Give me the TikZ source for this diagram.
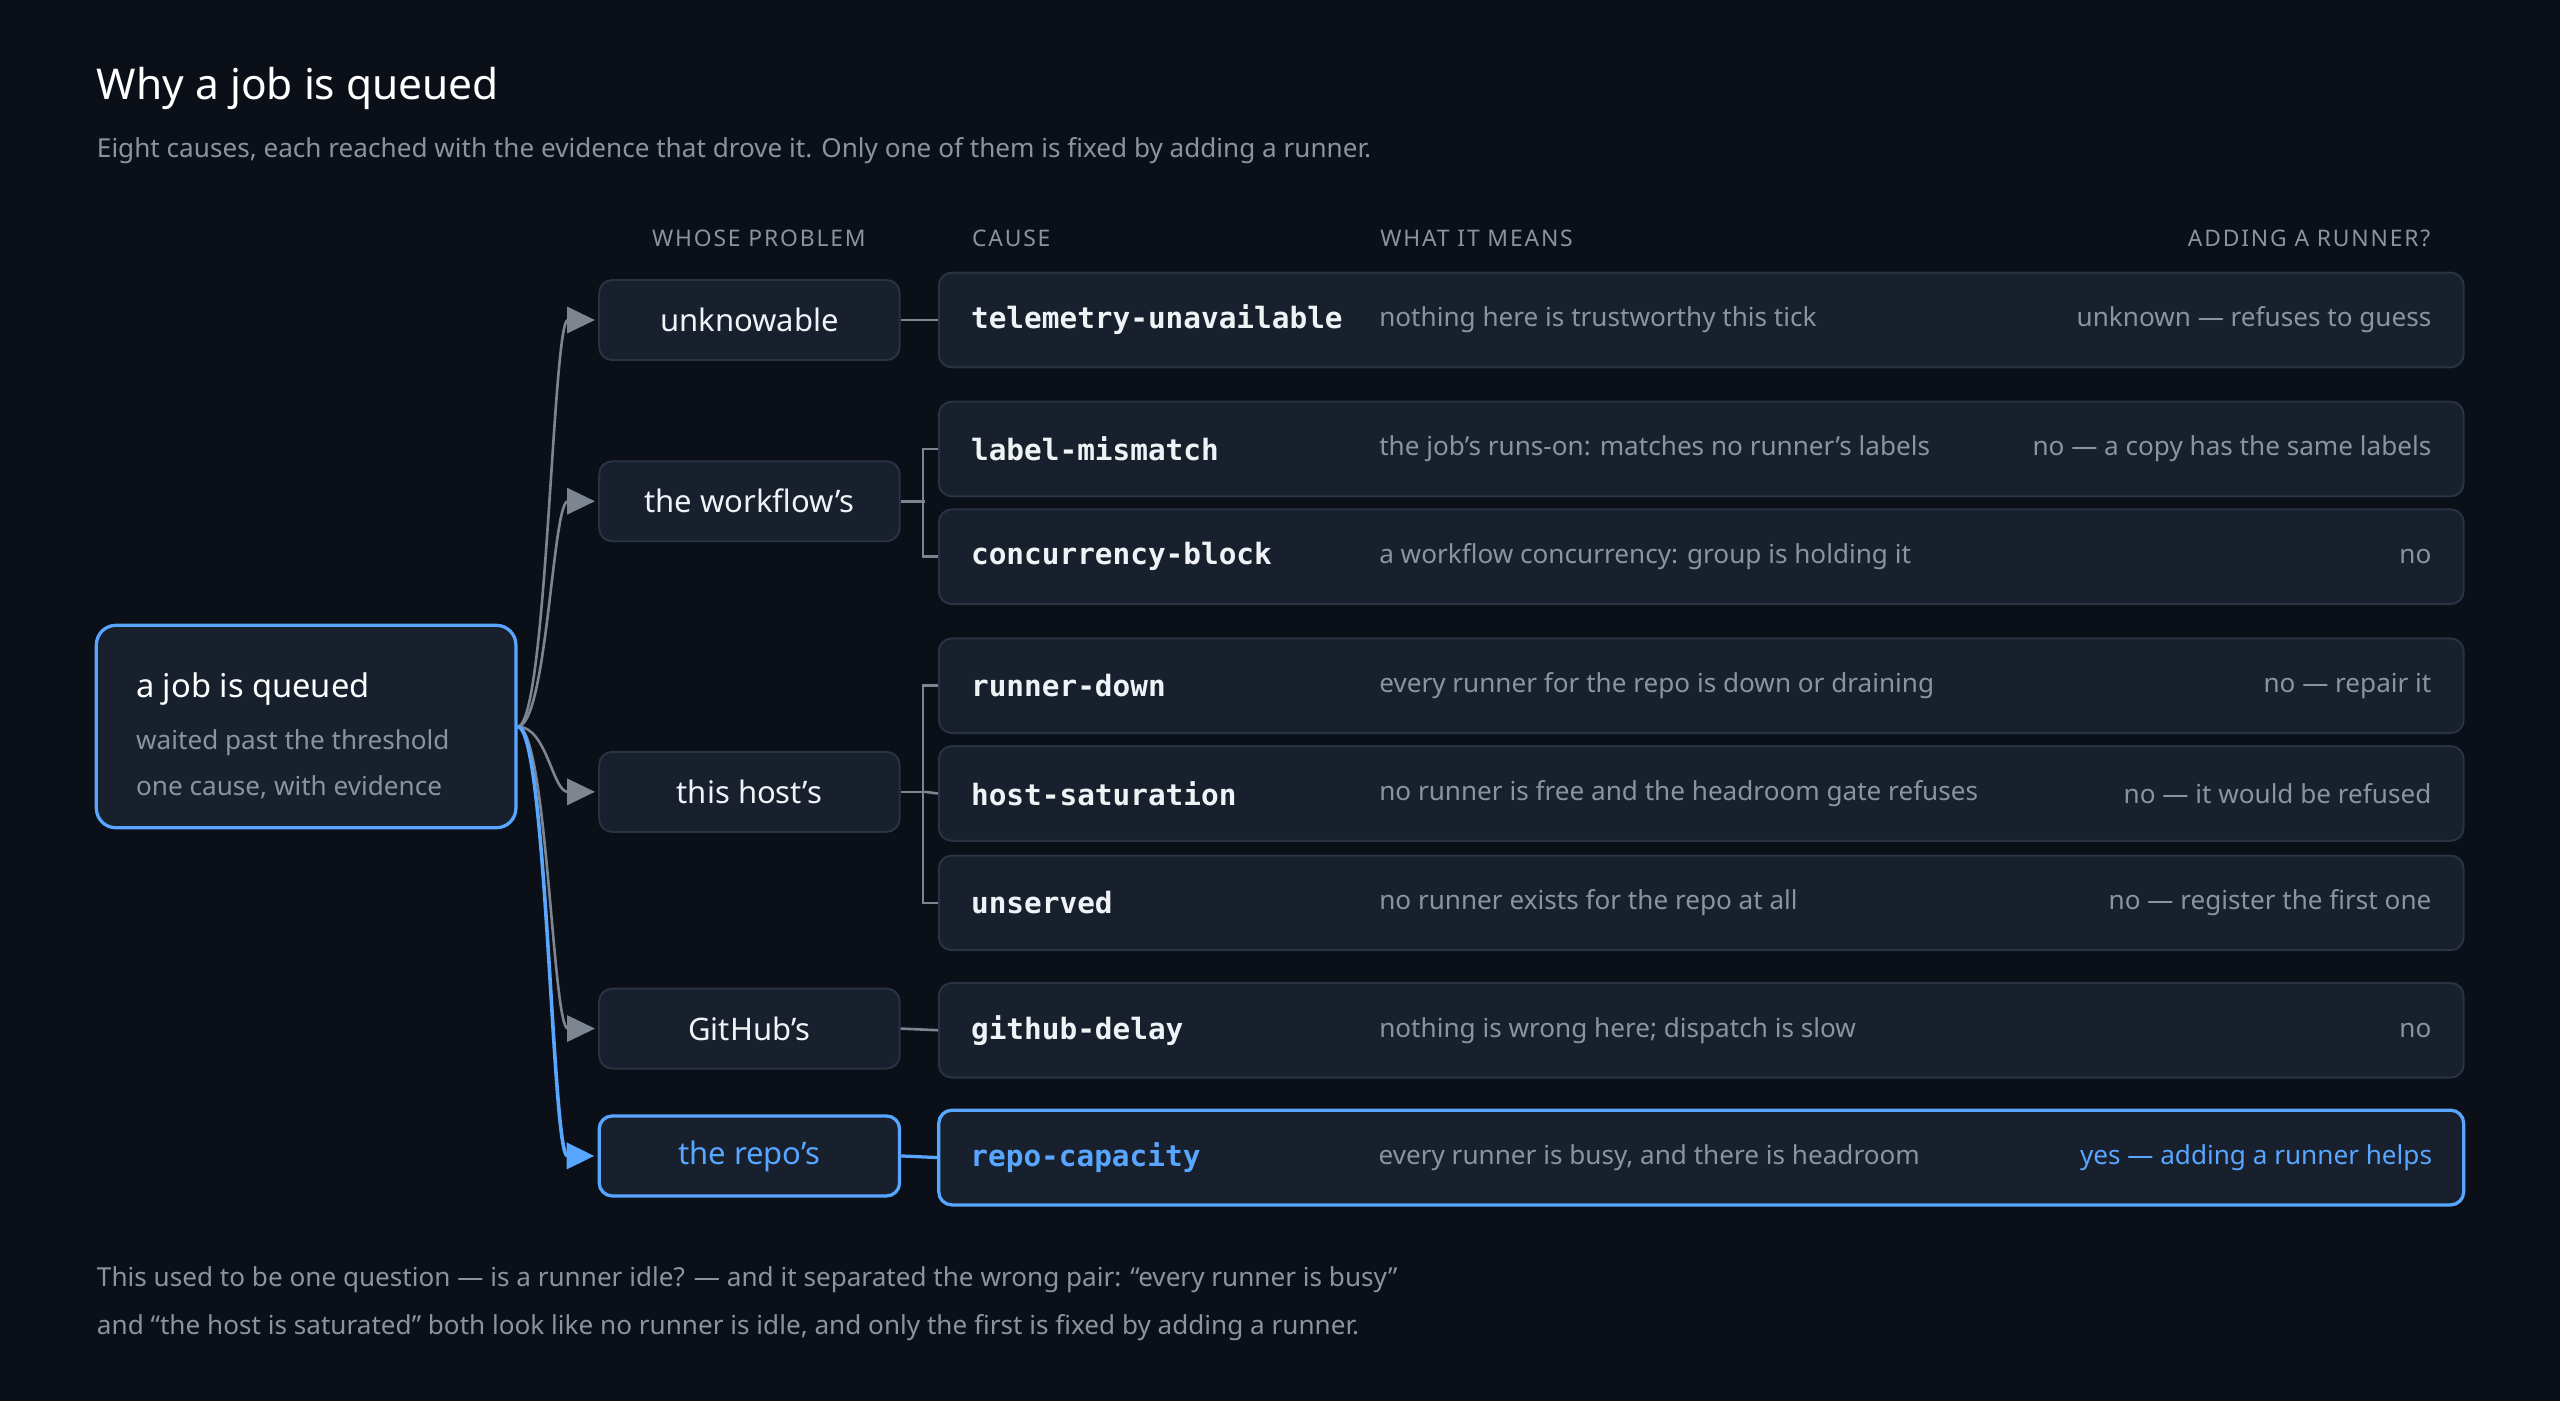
\documentclass[tikz,border=0pt]{standalone}
\usepackage{fontspec}
\setmainfont{Noto Sans}
\newfontfamily\monof{DejaVu Sans Mono}
\newfontfamily\capsf[LetterSpace=8]{Noto Sans}
\usetikzlibrary{arrows.meta,calc}
\definecolor{bg}{HTML}{0B0F17}
\definecolor{boxf}{HTML}{18202E}
\definecolor{boxd}{HTML}{2A3343}
\definecolor{txt}{HTML}{F0F3F6}
\definecolor{mut}{HTML}{8B949E}
\definecolor{blu}{HTML}{58A6FF}
\definecolor{con}{HTML}{7D8590}
\begin{document}
\begin{tikzpicture}[x=0.5pt,y=-0.5pt,
  cat/.style={draw=boxd,fill=boxf,rounded corners=4pt,line width=0.6pt,minimum width=92pt,minimum height=24.5pt,inner sep=0pt,text=txt,font=\fontsize{9.5}{11}\selectfont\bfseries},
  row/.style={draw=boxd,fill=boxf,rounded corners=4pt,line width=0.6pt,minimum width=467pt,minimum height=29pt,inner sep=0pt},
  cause/.style={anchor=west,text=txt,font=\monof\fontsize{9}{11}\selectfont\bfseries,inner sep=0pt},
  mean/.style={anchor=west,text=mut,font=\fontsize{8}{10}\selectfont,inner sep=0pt},
  ans/.style={anchor=east,text=mut,font=\fontsize{8}{10}\selectfont,inner sep=0pt},
  hdr/.style={anchor=west,text=mut,font=\capsf\fontsize{7}{9}\selectfont\bfseries,inner sep=0pt},
  link/.style={draw=con,line width=0.8pt},
  arr/.style={draw=con,line width=0.8pt,-{Triangle[length=8.5pt,width=8pt]}},
  barr/.style={draw=blu,line width=1.1pt,-{Triangle[length=8.5pt,width=8pt]}},
  txtn/.style={anchor=west,inner sep=0pt}]
\fill[bg] (0,0) rectangle (1568,858);
\node[txtn,text=white,font=\fontsize{13}{15}\selectfont\bfseries] (title) at (59,54) {Why a job is queued};
\node[txtn,text=mut,font=\fontsize{8}{10}\selectfont] (sub) at (59,92) {Eight causes, each reached with the evidence that drove it. Only one of them is fixed by adding a runner.};
\node[hdr] (h1) at (399,146) {WHOSE PROBLEM};
\node[hdr] (h2) at (595,146) {CAUSE};
\node[hdr] (h3) at (845,146) {WHAT IT MEANS};
\node[hdr,anchor=east] (h4) at (1489,146) {ADDING A RUNNER?};
% job
\node[draw=blu,fill=boxf,line width=1pt,rounded corners=6pt,minimum width=128.5pt,minimum height=62pt] (job) at (187.5,445) {};
\node[txtn,text=white,font=\fontsize{10}{12}\selectfont\bfseries] (jt) at (83,422) {a job is queued};
\node[txtn,text=mut,font=\fontsize{8}{10}\selectfont] (j1) at (83,455) {waited past the threshold};
\node[txtn,text=mut,font=\fontsize{8}{10}\selectfont] (j2) at (83,482) {one cause, with evidence};
% categories
\node[cat] (c1) at (459,196) {unknowable};
\node[cat] (c2) at (459,307) {the workflow's};
\node[cat] (c3) at (459,485) {this host's};
\node[cat] (c4) at (459,630) {GitHub's};
\node[cat,draw=blu,line width=1pt,text=blu] (c5) at (459,708) {the repo's};
% rows
\foreach \n/\y in {r1/196,r2/275,r3/341,r4/420,r5/486,r6/553,r7/631}{\node[row] (\n) at (1042,\y) {};}
\node[row,draw=blu,line width=1pt] (r8) at (1042,709) {};
\newcommand\rowtext[5]{%
  \node[cause,#5] (#1c) at ([xshift=10pt]#1.west) {#2};
  \node[mean] (#1m) at ([xshift=135pt]#1.west) {#3};
  \node[ans,#5] (#1a) at ([xshift=-10pt]#1.east) {#4};}
\rowtext{r1}{telemetry-unavailable}{nothing here is trustworthy this tick}{unknown — refuses to guess}{}
\rowtext{r2}{label-mismatch}{the job's runs-on: matches no runner's labels}{no — a copy has the same labels}{}
\rowtext{r3}{concurrency-block}{a workflow concurrency: group is holding it}{no}{}
\rowtext{r4}{runner-down}{every runner for the repo is down or draining}{no — repair it}{}
\rowtext{r5}{host-saturation}{no runner is free and the headroom gate refuses}{no — it would be refused}{}
\rowtext{r6}{unserved}{no runner exists for the repo at all}{no — register the first one}{}
\rowtext{r7}{github-delay}{nothing is wrong here; dispatch is slow}{no}{}
\rowtext{r8}{repo-capacity}{every runner is busy, and there is headroom}{yes — adding a runner helps}{text=blu}
% brackets
\draw[link] (c1.east) -- (r1.west);
\draw[link] (c4.east) -- (r7.west);
\draw[blu,line width=1pt] (c5.east) -- (r8.west);
\draw[link] (c2.east) -- ($(c2.east)+(15,0)$);
\draw[link] (r2.west) -- ++(-9,0) |- (r3.west);
\draw[link] (c3.east) -- ($(c3.east)+(15,0)$);
\draw[link] (r4.west) -- ++(-9,0) |- (r6.west);
\draw[link] ($(c3.east)+(15,0)$) -- (r5.west);
% arrows
\coordinate (o) at (job.east);
\foreach \c in {c1,c2,c3,c4}{
  \draw[arr] (o) .. controls ($(o)+(18,0)$) and ($(\c.west)+(-28,0)$) .. ([xshift=-1pt]\c.west);}
\draw[barr] (o) .. controls ($(o)+(18,0)$) and ($(c5.west)+(-28,0)$) .. ([xshift=-1pt]c5.west);
% footer
\node[txtn,text=mut,font=\fontsize{8}{10}\selectfont] (f1) at (59,784) {This used to be one question — is a runner idle? — and it separated the wrong pair: “every runner is busy”};
\node[txtn,text=mut,font=\fontsize{8}{10}\selectfont] (f2) at (59,813) {and “the host is saturated” both look like no runner is idle, and only the first is fixed by adding a runner.};
\end{tikzpicture}
\end{document}
